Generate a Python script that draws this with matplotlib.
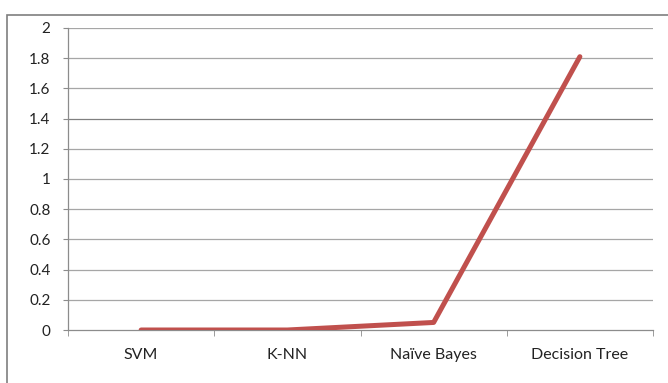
"""Line chart of classifier values (SVM, K-NN, Naive Bayes, Decision Tree)."""

import matplotlib
matplotlib.use("Agg")
import matplotlib.pyplot as plt
from matplotlib.patches import Rectangle
import numpy as np

classifiers = ["SVM", "K-NN", "Naïve Bayes", "Decision Tree"]
values = [0.0, 0.0, 0.05, 1.81]
y_ticks = [0, 0.2, 0.4, 0.6, 0.8, 1, 1.2, 1.4, 1.6, 1.8, 2]
y_tick_labels = ["0", "0.2", "0.4", "0.6", "0.8", "1", "1.2", "1.4", "1.6", "1.8", "2"]

plt.rcParams["font.family"] = ["Lato", "DejaVu Sans"]

fig = plt.figure(figsize=(6.68, 3.83), dpi=100)
ax = fig.add_axes([68 / 668, 53 / 383, 585 / 668, 302 / 383])

x = np.arange(len(classifiers))
ax.plot(x, values, color="#C0504D", linewidth=3.6, solid_capstyle="round", zorder=3)

ax.set_xlim(-0.5, len(classifiers) - 0.5)
ax.set_ylim(0, 2)
ax.set_yticks(y_ticks)
ax.set_yticklabels(y_tick_labels, fontsize=11, color="#222222")
for y in y_ticks[1:]:
    ax.axhline(y, color="#808080" if y == 1.4 else "#a6a6a6", linewidth=0.9, zorder=1)

ax.set_xticks(x)
ax.set_xticklabels(classifiers, fontsize=11.5, color="#222222")
ax.tick_params(axis="x", length=0, pad=13)
ax.set_xticks(np.arange(len(classifiers) + 1) - 0.5, minor=True)
ax.tick_params(axis="x", which="minor", length=4, color="#8c8c8c", direction="out")
ax.tick_params(axis="y", length=3.6, color="#8c8c8c", direction="out", pad=9)

for side in ["top", "right"]:
    ax.spines[side].set_visible(False)
for side in ["left", "bottom"]:
    ax.spines[side].set_color("#8c8c8c")
    ax.spines[side].set_linewidth(0.9)

fig.patches.append(Rectangle((7 / 668, -0.02), 1.0, 0.98, transform=fig.transFigure,
                             fill=False, edgecolor="#7f7f7f", linewidth=1.2))

fig.savefig("out.png", dpi=100)
